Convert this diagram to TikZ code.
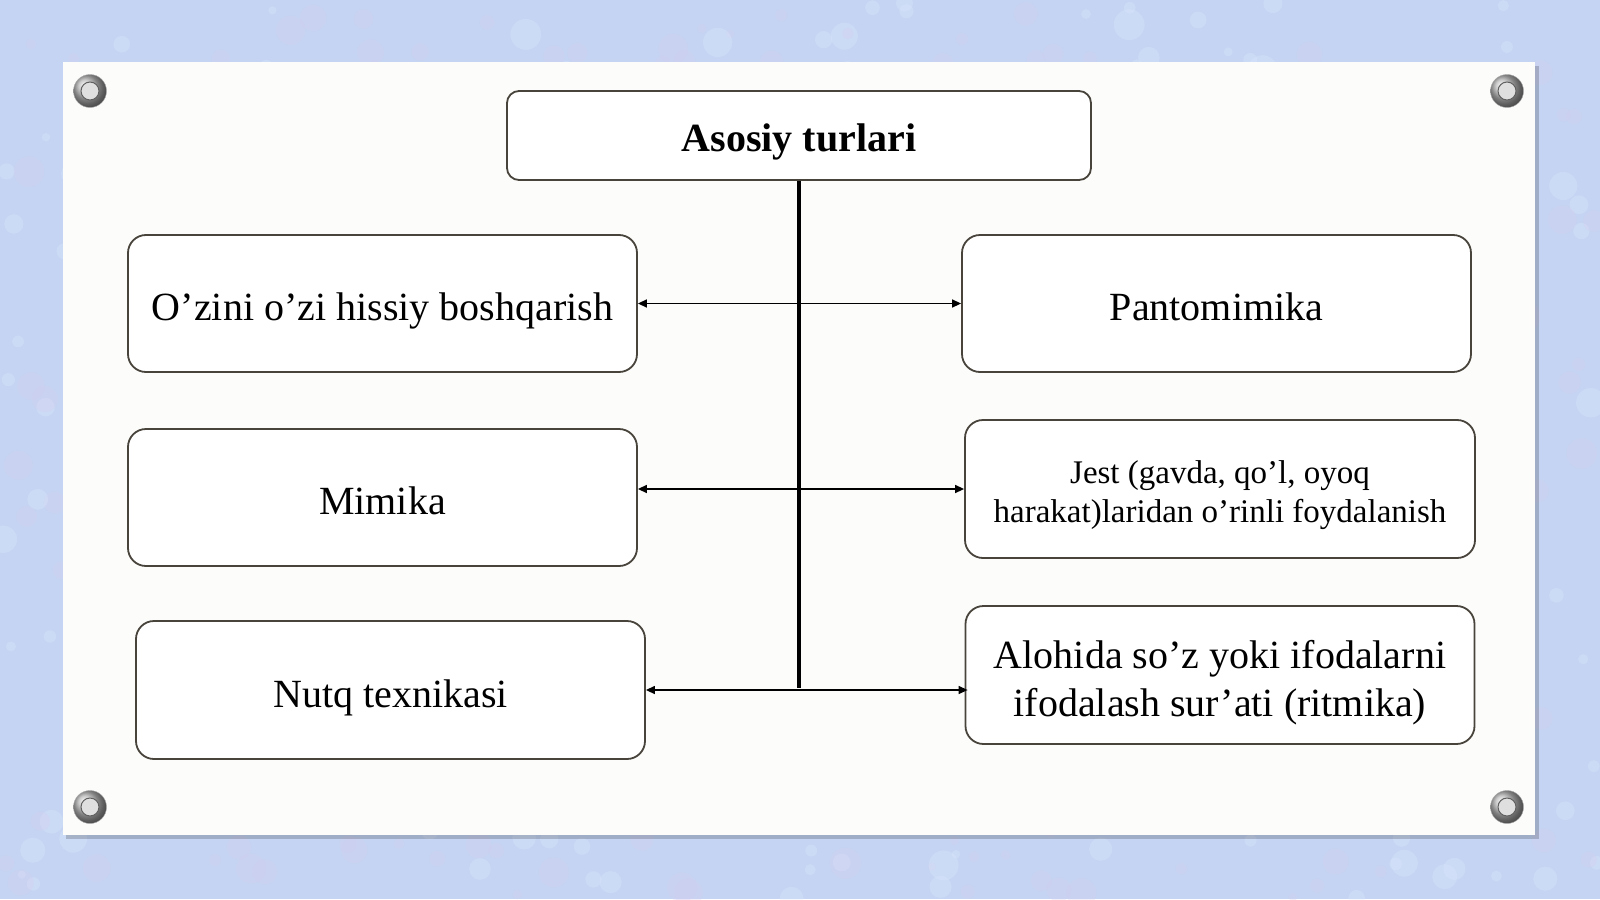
\documentclass[tikz,border=0pt]{standalone}
\usepackage{fontspec}
\setmainfont{Liberation Serif}
\usetikzlibrary{arrows.meta}
\definecolor{bgblue}{RGB}{196,212,242}
\definecolor{bgpurple}{RGB}{214,206,240}
\definecolor{bglight}{RGB}{222,234,252}
\definecolor{panelwhite}{RGB}{252,252,251}
\definecolor{boxline}{RGB}{72,68,60}
\newcommand{\bigstrut}{\rule[-10pt]{0pt}{54pt}}
\newcommand{\bigtop}{\rule{0pt}{44pt}}
\newcommand{\bigbot}{\rule[-10pt]{0pt}{10pt}}
\newcommand{\smalltop}{\rule{0pt}{36pt}}
\newcommand{\smallbot}{\rule[-8pt]{0pt}{8pt}}
\tikzset{
  box/.style={draw=boxline, line width=1.8pt, fill=white, rounded corners=18pt,
    align=center, inner sep=0pt, text=black,
    font=\fontsize{40}{48}\selectfont},
  smalltext/.style={font=\fontsize{33}{39}\selectfont},
  spine/.style={line width=3.5pt, black},
  arr/.style={line width=1.4pt, black, -{Triangle[length=9pt,width=8pt]}},
  screwout/.style={circle, minimum size=33pt, inner sep=0pt,
    ball color=gray!55, draw=gray!70},
  screwin/.style={circle, minimum size=18pt, inner sep=0pt,
    fill=gray!25, draw=gray!75!black, line width=1pt}
}
\begin{document}
\begin{tikzpicture}[x=1pt,y=-1pt]
\useasboundingbox (0,0) rectangle (1600,899);
% background
\fill[bgblue] (0,0) rectangle (1600,899);
\pgfmathsetseed{7}
\foreach \i in {1,...,700}{
  \pgfmathsetmacro{\xx}{rnd*1600}
  \pgfmathsetmacro{\yy}{rnd*899}
  \pgfmathsetmacro{\rr}{4+rnd*12}
  \pgfmathsetmacro{\cc}{rnd}
  \ifdim\cc pt<0.5pt
    \fill[bgpurple, opacity=0.3] (\xx,\yy) circle[radius=\rr];
  \else
    \fill[bglight, opacity=0.3] (\xx,\yy) circle[radius=\rr];
  \fi
}
% panel
\fill[black, opacity=0.18] (66,66) rectangle (1539,839);
\fill[panelwhite] (63,62) rectangle (1535,835);
% screws
\foreach \sx/\sy [count=\k] in {90/91, 1507/91, 90/807, 1507/807}{
  \node[screwout] (so\k) at (\sx,\sy) {};
  \node[screwin] (si\k) at (\sx,\sy) {};
}
% boxes
\node[box, rounded corners=12pt, minimum width=584pt, minimum height=89pt,
  font=\fontsize{40}{48}\selectfont\bfseries] (top) at (799,135.5) {\rule[-10pt]{0pt}{52pt}Asosiy turlari};
\node[box, minimum width=509pt, minimum height=137pt] (oz) at (382.5,303.5) {\bigstrut O’zini o’zi hissiy boshqarish};
\node[box, minimum width=509pt, minimum height=137pt] (mim) at (382.5,497.5) {\bigstrut Mimika};
\node[box, minimum width=509pt, minimum height=138pt] (nutq) at (390.5,690) {\bigstrut Nutq texnikasi};
\node[box, minimum width=509pt, minimum height=137pt] (panto) at (1216.5,303.5) {\bigstrut Pantomimika};
\node[box, smalltext, minimum width=510pt, minimum height=138pt] (jest) at (1220,489) {\smalltop Jest (gavda, qo’l, oyoq\\\smallbot harakat)laridan o’rinli foydalanish};
\node[box, minimum width=509pt, minimum height=138pt] (alo) at (1220,675) {\bigtop Alohida so’z yoki ifodalarni\\\bigbot ifodalash sur’ati (ritmika)};
% connectors
\coordinate (c1) at (top.south |- oz.east);
\coordinate (c2) at (top.south |- jest.west);
\coordinate (c3) at (top.south |- nutq.east);
\draw[spine] (top.south) -- ([yshift=1.75pt]c3);
\draw[arr] (c1) -- (oz.east);
\draw[arr] (c1) -- (panto.west);
\draw[arr] (c2) -- (mim.east |- jest.west);
\draw[arr] (c2) -- (jest.west);
\draw[arr] (c3) -- (nutq.east);
\draw[arr] (c3) -- ([xshift=3pt]nutq.east -| alo.west);
\end{tikzpicture}
\end{document}
